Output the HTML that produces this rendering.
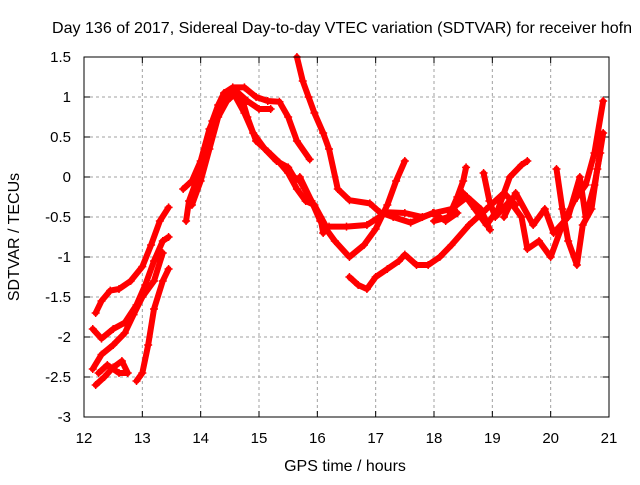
<!DOCTYPE html>
<html><head><meta charset="utf-8"><style>
body{margin:0;background:#fff}
svg text{font-family:"Liberation Sans",sans-serif;font-size:15px;fill:#000}
svg text.big{font-size:16px}
</style></head><body>
<svg id="c" width="640" height="480">
<text class="big" x="342" y="33" text-anchor="middle" textLength="580" lengthAdjust="spacingAndGlyphs">Day 136 of 2017, Sidereal Day-to-day VTEC variation (SDTVAR) for receiver hofn</text>
<text class="big" x="345" y="471" text-anchor="middle">GPS time / hours</text>
<text class="big" transform="translate(19,237) rotate(-90)" text-anchor="middle">SDTVAR / TECUs</text>
<g id="grid"></g><g id="ticks"></g><g id="marks"></g>
<rect x="84" y="57" width="525" height="360" fill="none" stroke="#000" stroke-width="1"/>
</svg>
<script>
const xTicks=[12,13,14,15,16,17,18,19,20,21];
const yTicks=[1.5,1,0.5,0,-0.5,-1,-1.5,-2,-2.5,-3];
const yLabels=["1.5","1","0.5","0","-0.5","-1","-1.5","-2","-2.5","-3"];
const trackA=[[12.2,-1.7],[12.3,-1.55],[12.45,-1.42],[12.6,-1.4],[12.8,-1.3],[13.0,-1.12],[13.15,-0.85],[13.3,-0.55],[13.45,-0.38]];
const trackB=[[12.15,-1.9],[12.3,-2.02],[12.5,-1.9],[12.7,-1.82],[12.9,-1.6],[13.05,-1.35],[13.2,-1.05],[13.35,-0.8],[13.45,-0.75]];
const trackC=[[12.15,-2.4],[12.3,-2.22],[12.5,-2.1],[12.7,-1.95],[12.85,-1.72],[13.0,-1.5],[13.2,-1.3],[13.35,-0.95]];
const trackC2=[[12.2,-2.6],[12.35,-2.5],[12.5,-2.38],[12.65,-2.3],[12.75,-2.45],[12.6,-2.45],[12.4,-2.35],[12.25,-2.45]];
const trackD=[[12.9,-2.55],[13.0,-2.45],[13.1,-2.1],[13.2,-1.65],[13.35,-1.3],[13.45,-1.15]];
const trackE=[[13.75,-0.55],[13.8,-0.3],[13.9,-0.1],[14.0,0.05],[14.1,0.4],[14.2,0.7],[14.3,0.9],[14.4,1.05],[14.55,1.12],[14.75,1.12],[14.95,1.0],[15.15,0.95],[15.35,0.94],[15.5,0.75],[15.65,0.45],[15.87,0.22]];
const trackE2=[[13.7,-0.15],[13.85,-0.05],[14.0,0.2],[14.15,0.6],[14.3,0.85],[14.45,1.0],[14.6,1.08],[14.8,0.95],[15.0,0.85],[15.2,0.85]];
const trackE3=[[13.85,-0.35],[14.0,-0.05],[14.15,0.35],[14.3,0.75],[14.45,0.95],[14.6,1.05],[14.7,1.0],[14.8,0.75],[14.95,0.45],[15.15,0.32],[15.35,0.18],[15.5,0.05],[15.65,-0.15],[15.8,-0.3],[15.95,-0.35],[16.15,-0.62]];
const trackE4=[[14.6,1.0],[14.75,0.8],[14.9,0.55],[15.1,0.35],[15.3,0.2],[15.5,0.12],[15.6,0.0],[15.7,-0.05],[15.9,-0.3],[16.05,-0.5],[16.1,-0.7]];
const trackF=[[15.65,1.5],[15.75,1.2],[15.85,1.0],[15.95,0.8],[16.1,0.55],[16.2,0.35],[16.35,-0.15],[16.55,-0.29],[16.9,-0.33],[17.07,-0.44],[17.3,-0.5],[17.6,-0.57],[17.98,-0.45],[18.2,-0.55],[18.4,-0.45]];
const trackG=[[15.7,0.0],[15.9,-0.3],[16.05,-0.55],[16.3,-0.8],[16.55,-1.0],[16.8,-0.85],[17.0,-0.65],[17.2,-0.35],[17.35,-0.05],[17.5,0.2]];
const trackH=[[16.2,-0.62],[16.5,-0.62],[16.85,-0.6],[17.19,-0.44],[17.5,-0.45],[17.8,-0.5],[18.0,-0.45],[18.3,-0.4],[18.57,-0.25],[18.8,-0.4],[18.96,-0.66]];
const trackI=[[16.55,-1.25],[16.7,-1.35],[16.85,-1.4],[17.0,-1.25],[17.2,-1.15],[17.4,-1.05],[17.5,-0.97],[17.7,-1.1],[17.9,-1.1],[18.1,-1.0],[18.3,-0.85],[18.6,-0.6],[18.9,-0.4],[19.2,-0.2],[19.4,-0.35]];
const trackJ=[[18.0,-0.55],[18.25,-0.5],[18.4,-0.25],[18.5,-0.05],[18.55,0.12]];
const trackK=[[18.3,-0.45],[18.5,-0.2],[18.7,-0.4],[18.9,-0.6],[19.1,-0.4],[19.3,0.0],[19.5,0.15],[19.6,0.2]];
const trackL=[[18.85,0.05],[18.95,-0.3],[19.05,-0.5],[19.3,-0.3],[19.5,-0.5],[19.6,-0.9],[19.8,-0.8],[20.0,-1.0],[20.2,-0.6],[20.4,-0.3],[20.6,-0.1],[20.75,0.3],[20.9,0.95]];
const trackM=[[20.1,0.1],[20.2,-0.4],[20.3,-0.8],[20.45,-1.1],[20.55,-0.6],[20.7,-0.4],[20.8,0.1],[20.9,0.55]];
const trackN=[[19.2,-0.5],[19.4,-0.2],[19.7,-0.6],[19.9,-0.4],[20.05,-0.7],[20.3,-0.5],[20.5,0.0],[20.6,-0.5],[20.75,-0.1],[20.85,0.3]];
const tracks=[trackA,trackB,trackC,trackC2,trackD,trackE,trackE2,trackE3,trackE4,trackF,trackG,trackH,trackI,trackJ,trackK,trackL,trackM,trackN];
const X=t=>84+(t-12)*525/9, Y=v=>57+(1.5-v)*80;
const NS="http://www.w3.org/2000/svg";
function mk(tag,attrs,parent){const e=document.createElementNS(NS,tag);for(const k in attrs)e.setAttribute(k,attrs[k]);parent.appendChild(e);return e;}
const grid=document.getElementById('grid'),ticks=document.getElementById('ticks'),marks=document.getElementById('marks');
xTicks.forEach(t=>{
 const g=mk('line',{x1:X(t),x2:X(t),y1:57,y2:417,stroke:'#a0a0a0','stroke-dasharray':'3,3'},grid);
 
 
 mk('line',{x1:X(t),x2:X(t),y1:417,y2:411,stroke:'#000'},ticks);
 mk('line',{x1:X(t),x2:X(t),y1:57,y2:63,stroke:'#000'},ticks);
 const l=mk('text',{x:X(t),y:443,'text-anchor':'middle'},ticks);l.textContent=t;
 
 
});
yTicks.forEach((v,i)=>{
 const g=mk('line',{x1:84,x2:609,y1:Y(v),y2:Y(v),stroke:'#a0a0a0','stroke-dasharray':'3,3'},grid);
 
 
 mk('line',{x1:84,x2:90,y1:Y(v),y2:Y(v),stroke:'#000'},ticks);
 mk('line',{x1:609,x2:603,y1:Y(v),y2:Y(v),stroke:'#000'},ticks);
 const l=mk('text',{x:71,y:Y(v)+5,'text-anchor':'end'},ticks);l.textContent=yLabels[i];
 
 
});
tracks.forEach((tr,i)=>{
 const pl=mk('polyline',{points:tr.map(p=>X(p[0])+','+Y(p[1])).join(' '),fill:'none',stroke:'#ff0000','stroke-width':6,'stroke-linejoin':'round','stroke-linecap':'round'},marks);
 
 
 tr.forEach(p=>{
  const x=X(p[0]),y=Y(p[1]);
  const m=mk('path',{d:`M${x-4},${y}h8M${x},${y-4}v8`,stroke:'#ff0000','stroke-width':1.5},marks);
  
  
 });
});
</script>
</body></html>
